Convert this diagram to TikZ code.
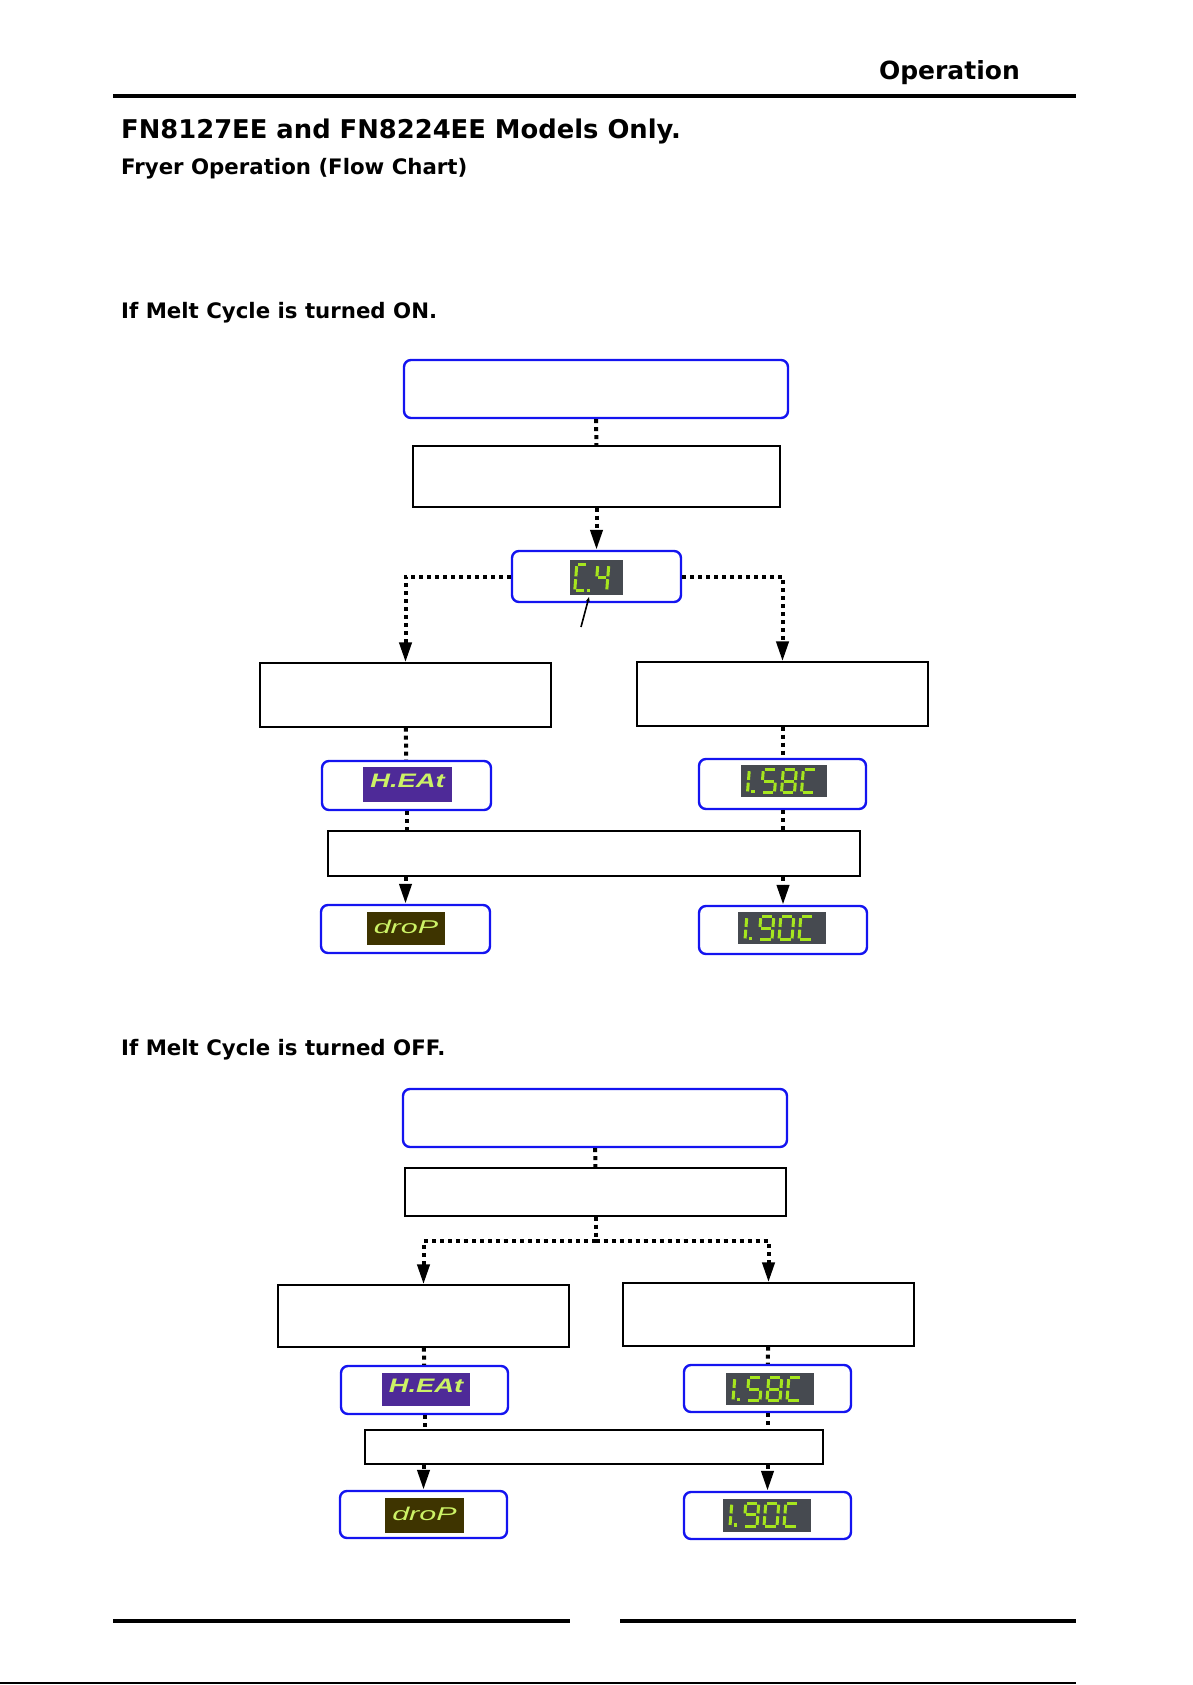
\documentclass[tikz,border=0pt]{standalone}
\usepackage{fontspec}
\usepackage{graphicx}
\setmainfont{DejaVu Sans}
\newfontfamily\ledfont{Liberation Sans}
\usetikzlibrary{positioning, arrows.meta, calc}

\definecolor{frameblue}{HTML}{1414F0}
\definecolor{ledgray}{HTML}{464A50}
\definecolor{ledgreen}{HTML}{A6E61E}
\definecolor{heatpurple}{HTML}{4E2A98}
\definecolor{dropbrown}{HTML}{3E3400}
\definecolor{lcdtext}{HTML}{CCF266}

% seven segment parts (top left corner at origin, y grows downwards)
\def\sw{13}\def\sh{23}
\newcommand{\segA}{(0,0) -- (\sw,0)}
\newcommand{\segB}{(\sw,0) -- (\sw,\sh/2)}
\newcommand{\segC}{(\sw,\sh/2) -- (\sw,\sh)}
\newcommand{\segD}{(0,\sh) -- (\sw,\sh)}
\newcommand{\segE}{(0,\sh/2) -- (0,\sh)}
\newcommand{\segF}{(0,0) -- (0,\sh/2)}
\newcommand{\segG}{(0,\sh/2) -- (\sw,\sh/2)}
\newcommand{\segdigit}[3]{%
  \begin{scope}[shift={(#1,#2)}, xslant=0.08]
    \foreach \s in {#3} {\draw[ledseg] \csname seg\s\endcsname;}
  \end{scope}}
\newcommand{\leddot}[2]{\fill[ledgreen] (#1,#2) rectangle ++(3.5,3.5);}
% reading "1.xyC" on a display panel
\newcommand{\ledtemp}[3]{%
  \begin{scope}[shift={(#1.north west)}]
    \segdigit{-4}{5}{B,C}
    \leddot{11}{25}
    \segdigit{23}{5}{#2}
    \segdigit{43}{5}{#3}
    \segdigit{63}{5}{A,F,E,D}
  \end{scope}}

\begin{document}
\begin{tikzpicture}[x=1pt, y=-1pt,
    bluebox/.style={rectangle, rounded corners=7pt, draw=frameblue, line width=2.4pt, inner sep=0pt},
    plainbox/.style={rectangle, draw=black, line width=1.3pt, fill=white, inner sep=0pt},
    ledpanel/.style={rectangle, fill=ledgray, inner sep=0pt},
    ledseg/.style={ledgreen, line width=3pt, shorten <=1.4pt, shorten >=1.4pt},
    heatlcd/.style={ledpanel, fill=heatpurple, text=lcdtext, text height=14pt, text depth=9pt,
                    font=\ledfont\fontsize{19.5}{20}\selectfont\bfseries\itshape},
    droplcd/.style={ledpanel, fill=dropbrown, text=lcdtext, text height=13pt, text depth=4pt,
                    font=\ledfont\fontsize{18.5}{20}\selectfont\itshape},
    dotline/.style={line width=4pt, dash pattern=on 4pt off 4pt},
    dotarr/.style={dotline, -{Triangle[length=20pt, width=12pt]}},
    pointer/.style={line width=1.6pt, -{Stealth[length=5pt, width=4pt]}},
    heading/.style={anchor=base west, inner sep=0pt, font=\fontsize{21.3}{25}\selectfont\bfseries},
  ]
\useasboundingbox (0,0) rectangle (1192,1685);

% page head
\node[anchor=base east, inner sep=0pt, font=\fontsize{25}{30}\selectfont\bfseries] (pagehead) at (1020,80) {Operation};
\draw[line width=3.5pt] (113,96) -- (1076,96);
\node[anchor=base west, inner sep=0pt, font=\fontsize{25.8}{30}\selectfont\bfseries] (title) at (121,139) {FN8127EE and FN8224EE Models Only.};
\node[heading] (subtitle) at (121,175) {Fryer Operation (Flow Chart)};

% melt cycle on
\node[heading] (onhead) at (121,319) {If Melt Cycle is turned ON.};
\node[bluebox, minimum width=384pt, minimum height=58pt] (top1) at (596,389) {};
\node[plainbox, minimum width=367pt, minimum height=61pt] (rect1) at (596.5,476.5) {};
\node[bluebox, minimum width=169pt, minimum height=51pt] (cp) at (596.5,576.5) {};
\node[ledpanel, minimum width=53pt, minimum height=35pt] (cpled) at (596.5,577.5) {};
\begin{scope}[shift={(cpled.north west)}]
  \def\sw{11}\def\sh{26}
  \segdigit{7}{5}{A,F,E,D}
  \leddot{17}{29}
  \segdigit{28}{5}{F,G,B,C}
\end{scope}
\coordinate (cpdot) at (589,597);
\coordinate (cptip) at (581,627);
\node[plainbox, minimum width=291pt, minimum height=64pt] (L1) at (405.5,695) {};
\node[plainbox, minimum width=291pt, minimum height=64pt] (R1) at (782.5,694) {};
\node[bluebox, minimum width=169pt, minimum height=49pt] (heat1) at (406.5,785.5) {};
\node[heatlcd, minimum width=89pt, minimum height=35pt] (heatled1) at (407.5,784.5) {\scalebox{1.4}[1]{H.EAt}};
\node[bluebox, minimum width=167pt, minimum height=50pt] (temp1) at (782.5,784) {};
\node[ledpanel, minimum width=86pt, minimum height=32pt] (led158a) at (783.5,781) {};
\ledtemp{led158a}{A,F,G,C,D}{A,B,C,D,E,F,G}
\node[plainbox, minimum width=532pt, minimum height=45pt] (W1) at (594,853.5) {};
\node[bluebox, minimum width=169pt, minimum height=48pt] (drop1) at (405.5,929) {};
\node[droplcd, minimum width=78pt, minimum height=33pt] (dropled1) at (406,928.5) {\scalebox{1.65}[1]{droP}};
\node[bluebox, minimum width=168pt, minimum height=48pt] (temp190a) at (783,930) {};
\node[ledpanel, minimum width=88pt, minimum height=32pt] (led190a) at (782,928) {};
\ledtemp{led190a}{A,B,C,D,F,G}{A,B,C,D,E,F}

\draw[dotline] (top1) -- (rect1);
\draw[dotarr] (rect1) -- (cp);
\draw[dotarr] (cp.west) -| (L1.north);
\draw[dotarr] (cp.east) -| (R1.north);
\draw[pointer] (cptip) -- (cpdot);
\draw[dotline] (L1) -- (heat1);
\draw[dotline] (R1) -- (temp1);
\draw[dotline] (heat1.south) -- (heat1.south |- W1.north);
\draw[dotline] (temp1.south) -- (temp1.south |- W1.north);
\draw[dotarr] (drop1.north |- W1.south) -- (drop1.north);
\draw[dotarr] (temp190a.north |- W1.south) -- (temp190a.north);

% melt cycle off
\node[heading] (offhead) at (121,1055) {If Melt Cycle is turned OFF.};
\node[bluebox, minimum width=384pt, minimum height=58pt] (top2) at (595,1118) {};
\node[plainbox, minimum width=381pt, minimum height=48pt] (rect2) at (595.5,1192) {};
\coordinate (split2) at (595.5,1241);
\node[plainbox, minimum width=291pt, minimum height=62pt] (L2) at (423.5,1316) {};
\node[plainbox, minimum width=291pt, minimum height=63pt] (R2) at (768.5,1314.5) {};
\node[bluebox, minimum width=167pt, minimum height=48pt] (heat2) at (424.5,1390) {};
\node[heatlcd, minimum width=88pt, minimum height=33pt] (heatled2) at (426,1389.5) {\scalebox{1.4}[1]{H.EAt}};
\node[bluebox, minimum width=167pt, minimum height=47pt] (temp2) at (767.5,1388.5) {};
\node[ledpanel, minimum width=88pt, minimum height=32pt] (led158b) at (770,1389) {};
\ledtemp{led158b}{A,F,G,C,D}{A,B,C,D,E,F,G}
\node[plainbox, minimum width=458pt, minimum height=34pt] (W2) at (594,1447) {};
\node[bluebox, minimum width=167pt, minimum height=47pt] (drop2) at (423.5,1514.5) {};
\node[droplcd, minimum width=79pt, minimum height=35pt] (dropled2) at (424.5,1515.5) {\scalebox{1.65}[1]{droP}};
\node[bluebox, minimum width=167pt, minimum height=47pt] (temp190b) at (767.5,1515.5) {};
\node[ledpanel, minimum width=88pt, minimum height=33pt] (led190b) at (767,1515) {};
\ledtemp{led190b}{A,B,C,D,F,G}{A,B,C,D,E,F}

\draw[dotline] (top2) -- (rect2);
\draw[dotline] (rect2) -- (split2);
\draw[dotarr] (split2) -| (L2.north);
\draw[dotarr] (split2) -| (R2.north);
\draw[dotline] (L2) -- (heat2);
\draw[dotline] (R2) -- (temp2);
\draw[dotline] (heat2.south) -- (heat2.south |- W2.north);
\draw[dotline] (temp2.south) -- (temp2.south |- W2.north);
\draw[dotarr] (drop2.north |- W2.south) -- (drop2.north);
\draw[dotarr] (temp190b.north |- W2.south) -- (temp190b.north);

% page foot
\draw[line width=4pt] (113,1621) -- (570,1621);
\draw[line width=4pt] (620,1621) -- (1076,1621);
\draw[line width=1.5pt] (0,1683) -- (1076,1683);
\end{tikzpicture}
\end{document}
